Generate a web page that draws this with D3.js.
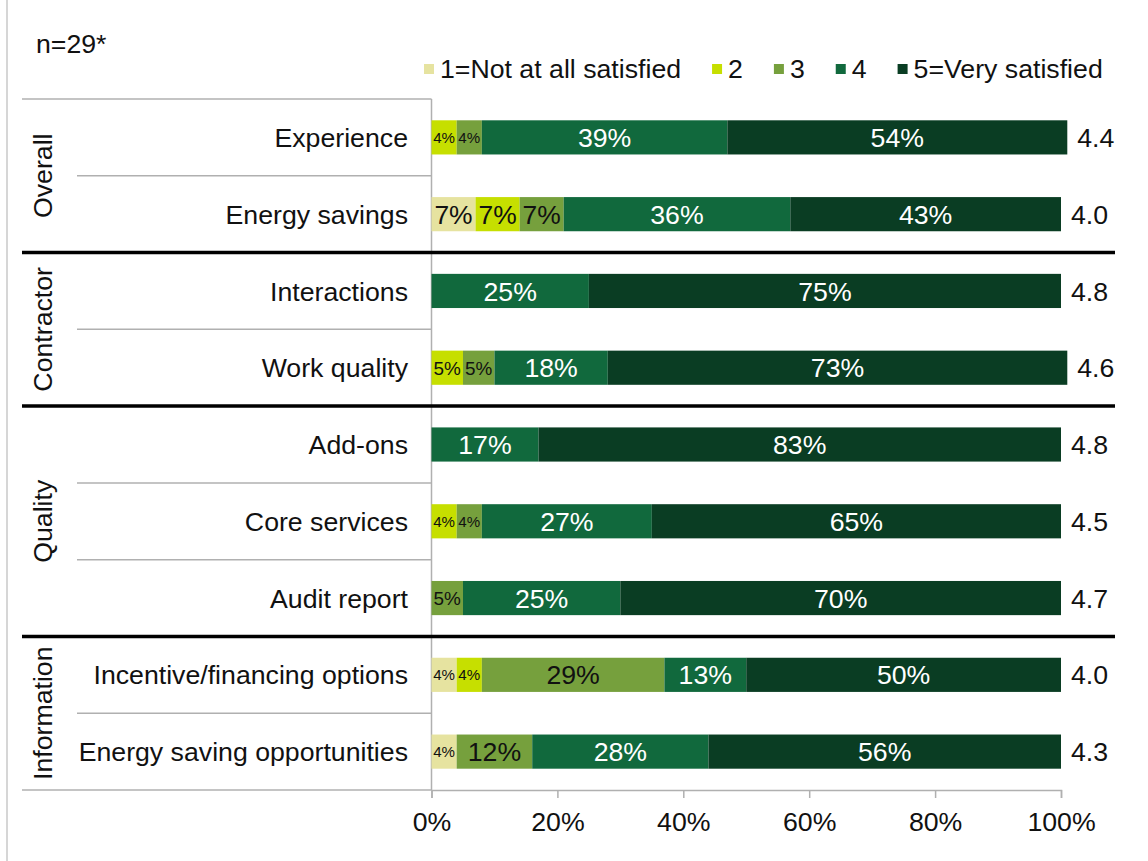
<!DOCTYPE html>
<html>
<head>
<meta charset="utf-8">
<script src="https://cdn.jsdelivr.net/npm/d3@7"></script>
<style>
  body { margin: 0; background: #fff; }
  svg { font-family: "Liberation Sans", Arial, sans-serif; }
</style>
</head>
<body>
<div id="chart"></div>
<script>
// Survey items (top to bottom) and the group each one belongs to
const categories = [
    "Experience", "Energy savings",
    "Interactions", "Work quality",
    "Add-ons", "Core services", "Audit report",
    "Incentive/financing options", "Energy saving opportunities"
];
const groups = ["Overall", "Overall", "Contractor", "Contractor", "Quality", "Quality", "Quality", "Information", "Information"];
const groupNames = ["Overall", "Contractor", "Quality", "Information"];

// Share of respondents per rating (%)
const rating1 = [0, 7, 0, 0, 0, 0, 0, 4, 4];
const rating2 = [4, 7, 0, 5, 0, 4, 0, 4, 0];
const rating3 = [4, 7, 0, 5, 0, 4, 5, 29, 12];
const rating4 = [39, 36, 25, 18, 17, 27, 25, 13, 28];
const rating5 = [54, 43, 75, 73, 83, 65, 70, 50, 56];

// Mean rating shown at the end of each bar
const means = [4.4, 4.0, 4.8, 4.6, 4.8, 4.5, 4.7, 4.0, 4.3];

const seriesNames = ["1=Not at all satisfied", "2", "3", "4", "5=Very satisfied"];
const xTicks = [0, 20, 40, 60, 80, 100];

const colors = ["#e6e3a0", "#c6df00", "#76a03d", "#11693d", "#0a3d23"];
const labelColors = ["#111", "#111", "#111", "#fff", "#fff"];

const width = 1148;
const height = 861;
const fontSize = 26.7;

// Build table for the stack generator
const table = categories.map((c, i) => ({
    category: c,
    group: groups[i],
    mean: means[i],
    s0: rating1[i], s1: rating2[i], s2: rating3[i], s3: rating4[i], s4: rating5[i]
}));
const keys = ["s0", "s1", "s2", "s3", "s4"];
const stacked = d3.stack().keys(keys)(table);

const svg = d3.select("#chart")
    .append("svg")
    .attr("width", width)
    .attr("height", height);

// Scales
const x = d3.scaleLinear()
    .domain([0, 100])
    .range([431.5, 1061]);

const y = d3.scaleBand()
    .domain(categories)
    .range([99, 790])
    .paddingInner(0.555)
    .paddingOuter(0.2775);

const step = y.step();
const rowTop = c => y(c) - y.paddingOuter() * step;

// Chart border on the left edge
svg.append("line")
    .attr("x1", 7).attr("x2", 7)
    .attr("y1", 0).attr("y2", height)
    .attr("stroke", "#c8c8c8")
    .attr("stroke-width", 1.5);

// Thin separators between items inside a group
categories.forEach((c, i) => {
    if (i > 0 && groups[i] === groups[i - 1]) {
        svg.append("line")
            .attr("x1", 77).attr("x2", x(0))
            .attr("y1", rowTop(c)).attr("y2", rowTop(c))
            .attr("stroke", "#b0b0b0")
            .attr("stroke-width", 1.5);
    }
});

// Top and bottom frame lines
svg.append("line")
    .attr("x1", 22).attr("x2", x(0))
    .attr("y1", y.range()[0]).attr("y2", y.range()[0])
    .attr("stroke", "#b0b0b0")
    .attr("stroke-width", 1.5);

svg.append("line")
    .attr("x1", 22).attr("x2", x(0))
    .attr("y1", y.range()[1]).attr("y2", y.range()[1])
    .attr("stroke", "#b0b0b0")
    .attr("stroke-width", 1.5);

// X axis
const xAxis = svg.append("g")
    .attr("transform", `translate(0,${y.range()[1]})`)
    .call(d3.axisBottom(x)
        .tickValues(xTicks)
        .tickFormat(d => d + "%")
        .tickSize(8)
        .tickPadding(14));
xAxis.select(".domain").attr("stroke", "#b0b0b0").attr("stroke-width", 1.5);
xAxis.selectAll(".tick line").attr("stroke", "#b0b0b0").attr("stroke-width", 1.5);
xAxis.selectAll("text")
    .attr("font-size", fontSize)
    .attr("fill", "#111")
    .attr("font-family", "Liberation Sans, Arial, sans-serif");

// Vertical axis line
svg.append("line")
    .attr("x1", x(0)).attr("x2", x(0))
    .attr("y1", y.range()[0]).attr("y2", y.range()[1])
    .attr("stroke", "#b0b0b0")
    .attr("stroke-width", 1.5);

// Stacked bars
stacked.forEach((series, k) => {
    svg.append("g")
        .attr("class", "layer")
        .selectAll("rect")
        .data(series)
        .enter()
        .append("rect")
        .attr("x", d => x(d[0]))
        .attr("y", d => y(d.data.category))
        .attr("width", d => x(d[1]) - x(d[0]))
        .attr("height", y.bandwidth())
        .attr("fill", colors[k]);
});

// Segment labels, shrunk to fit the narrow segments
stacked.forEach((series, k) => {
    svg.selectAll(null)
        .data(series.filter(d => d[1] - d[0] > 0))
        .enter()
        .append("text")
        .attr("x", d => (x(d[0]) + x(d[1])) / 2)
        .attr("y", d => y(d.data.category) + y.bandwidth() / 2)
        .attr("dy", "0.36em")
        .attr("text-anchor", "middle")
        .attr("font-size", d => Math.min(fontSize, (x(d[1]) - x(d[0])) * 0.6))
        .attr("fill", labelColors[k])
        .text(d => (d[1] - d[0]) + "%");
});

// Mean labels
svg.selectAll("text.mean")
    .data(stacked[stacked.length - 1])
    .enter()
    .append("text")
    .attr("class", "mean")
    .attr("x", d => x(d[1]) + 10)
    .attr("y", d => y(d.data.category) + y.bandwidth() / 2)
    .attr("dy", "0.36em")
    .attr("font-size", fontSize)
    .attr("fill", "#111")
    .text(d => d.data.mean.toFixed(1));

// Category labels
svg.selectAll("text.cat")
    .data(categories)
    .enter()
    .append("text")
    .attr("class", "cat")
    .attr("x", 408)
    .attr("y", d => y(d) + y.bandwidth() / 2)
    .attr("dy", "0.36em")
    .attr("text-anchor", "end")
    .attr("font-size", fontSize)
    .attr("fill", "#111")
    .text(d => d);

// Group labels (rotated) and thick group boundaries
groupNames.forEach((g, gi) => {
    const members = categories.filter((c, i) => groups[i] === g);
    const top = rowTop(members[0]);
    const bottom = rowTop(members[members.length - 1]) + step;

    svg.append("text")
        .attr("transform", `translate(42,${(top + bottom) / 2}) rotate(-90)`)
        .attr("dy", "0.36em")
        .attr("text-anchor", "middle")
        .attr("font-size", fontSize)
        .attr("fill", "#111")
        .text(g);

    if (gi > 0) {
        svg.append("line")
            .attr("x1", 22).attr("x2", 1115)
            .attr("y1", top).attr("y2", top)
            .attr("stroke", "#000")
            .attr("stroke-width", 3.5);
    }
});

// Sample size note
svg.append("text")
    .attr("x", 36)
    .attr("y", 53)
    .attr("font-size", fontSize)
    .attr("fill", "#111")
    .text("n=29*");

// Legend
const legend = svg.append("g");
let lx = 424;
seriesNames.forEach((name, i) => {
    const item = legend.append("g").attr("transform", `translate(${lx},0)`);
    item.append("rect")
        .attr("x", 0)
        .attr("y", 64)
        .attr("width", 10)
        .attr("height", 10)
        .attr("fill", colors[i]);
    const t = item.append("text")
        .attr("x", 16)
        .attr("y", 78)
        .attr("font-size", fontSize)
        .attr("fill", "#111")
        .text(name);
    lx += 16 + t.node().getComputedTextLength() + 31;
});
</script>
</body>
</html>
